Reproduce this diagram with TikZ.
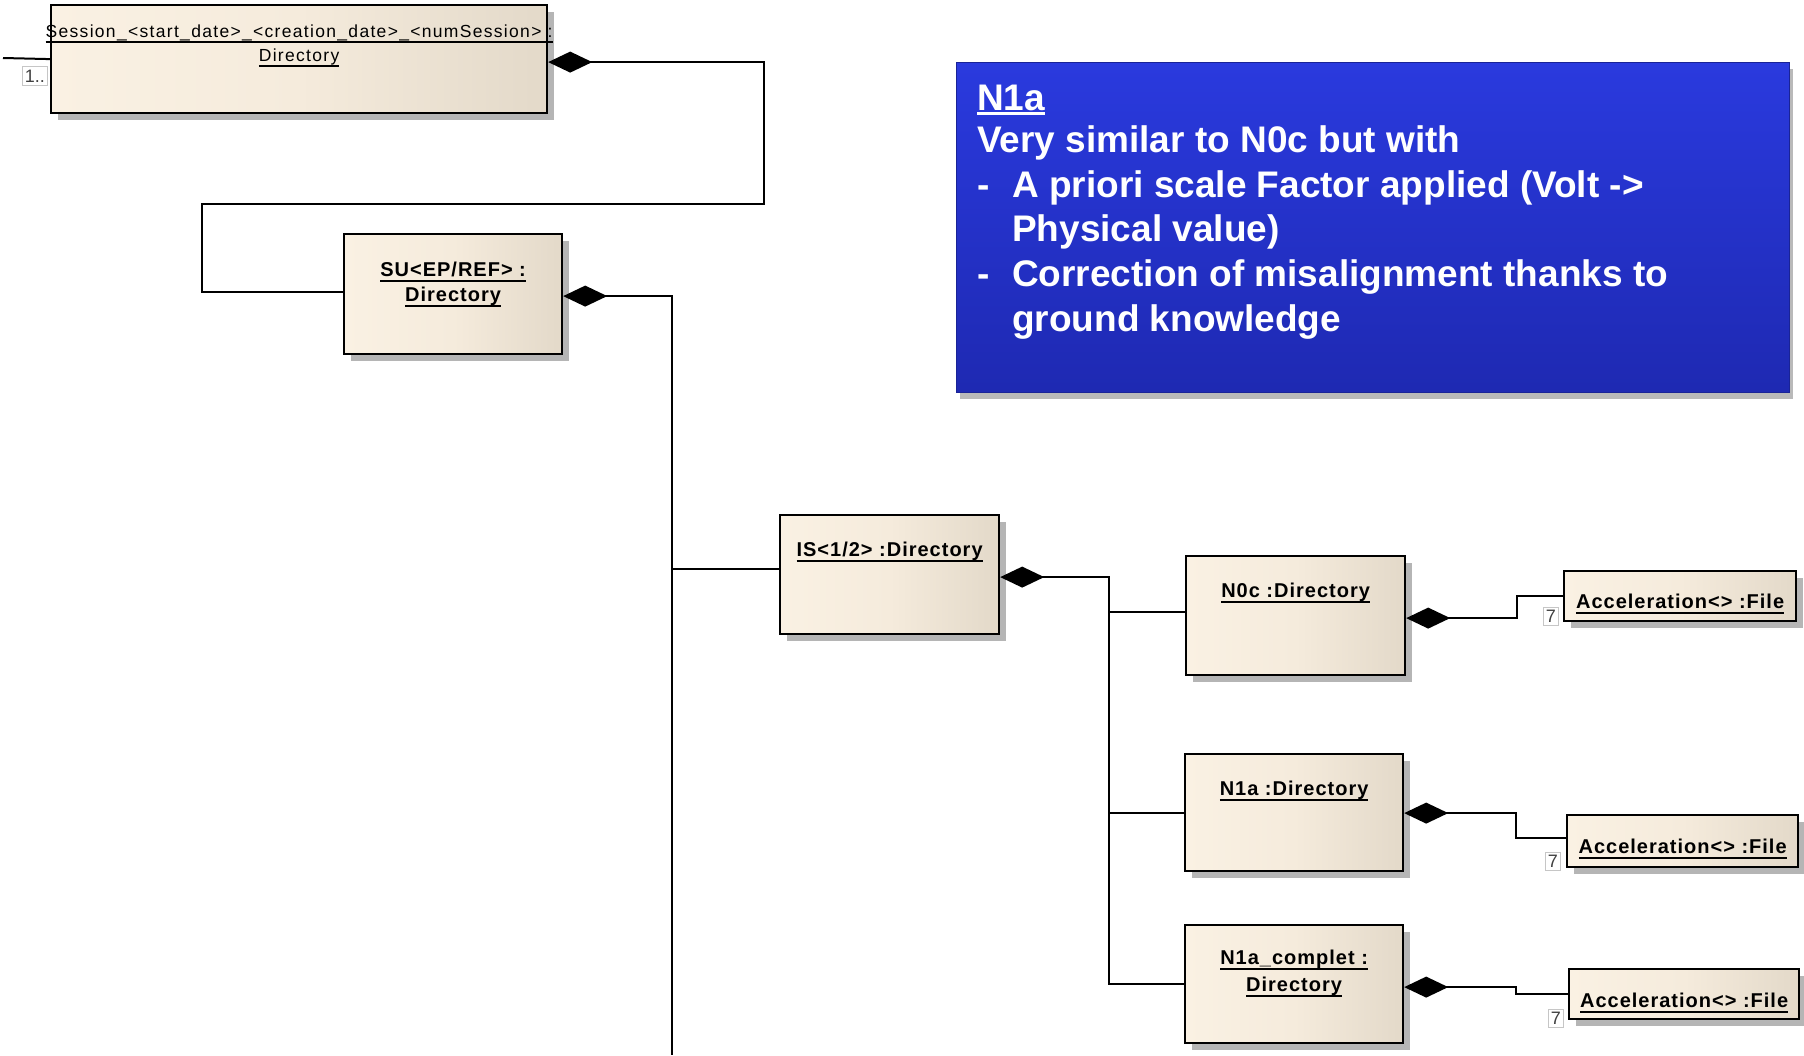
\documentclass[tikz,border=0pt]{standalone}
\usepackage{fontspec}
\setmainfont{Liberation Sans}
\newfontfamily\umlfont[LetterSpace=5]{Liberation Sans}
\newfontfamily\sessfont[LetterSpace=7.5]{Liberation Sans}
\usetikzlibrary{arrows.meta,shadows}
\definecolor{cremeL}{HTML}{FAF1E3}
\definecolor{cremeM}{HTML}{F5EBDC}
\definecolor{cremeR}{HTML}{E3D9C9}
\definecolor{shadowgray}{HTML}{B5B5B5}
\definecolor{blueT}{RGB}{42,58,222}
\definecolor{blueB}{RGB}{30,41,178}
\newcommand\ulx[1]{\setbox0=\hbox{#1}\rlap{\rule[-5.5pt]{\wd0}{1.8pt}}\box0}
\newcommand\ult[1]{\setbox0=\hbox{#1}\rlap{\rule[-4.5pt]{\wd0}{2.4pt}}\box0}
\begin{document}
\begin{tikzpicture}[x=1pt,y=-1pt,
  uml/.style={draw=black, line width=2.2pt, left color=cremeL, right color=cremeR, middle color=cremeM,
    general shadow={fill=shadowgray, draw=none, shadow xshift=7pt, shadow yshift=-7pt},
    inner sep=0pt, anchor=north west},
  umltxt/.style={font=\umlfont\bfseries\fontsize{20}{24}\selectfont, inner sep=0pt, anchor=base},
  sesstxt/.style={font=\sessfont\fontsize{17.5}{20}\selectfont, inner sep=0pt, anchor=base},
  conn/.style={line width=2pt},
  diam/.style={conn, {Diamond[length=44pt,width=21pt]}-},
  mult/.style={draw=gray!45, fill=white, line width=0.8pt, inner sep=0pt, anchor=north west,
    text=black!75, font=\fontsize{18}{18}\selectfont},
  note/.style={top color=blueT, bottom color=blueB, draw=blueB!85!black, line width=1pt,
    general shadow={fill=gray!55, draw=none, shadow xshift=3pt, shadow yshift=-6pt},
    inner sep=0pt, anchor=north west},
  notetxt/.style={text=white, font=\bfseries\fontsize{37}{44}\selectfont, inner sep=0pt, anchor=base west}]
\useasboundingbox (0,0) rectangle (1804,1055);

% ---- note ----
\node[note, minimum width=833pt, minimum height=330pt] (note) at (956,62) {};
\node[notetxt] (nt0) at (977,110) {\ult{N1a}};
\node[notetxt] (nt1) at (977,152) {Very similar to N0c but with};
\node[notetxt] (nd1) at (977,197) {-};
\node[notetxt] (nt2) at (1012,197) {A priori scale Factor applied (Volt ->};
\node[notetxt] (nt3) at (1012,241) {Physical value)};
\node[notetxt] (nd2) at (977,286) {-};
\node[notetxt] (nt4) at (1012,286) {Correction of misalignment thanks to};
\node[notetxt] (nt5) at (1012,331) {ground knowledge};

% ---- boxes ----
\node[uml, minimum width=496pt, minimum height=108pt] (sess) at (50,4) {};
\node[sesstxt] (sessT1) at ([yshift=-33.7pt]sess.north) {\ulx{Session\_<start\_date>\_<creation\_date>\_<numSession> :}};
\node[sesstxt] (sessT2) at ([yshift=-57pt]sess.north) {\ulx{Directory}};
\node[mult, minimum width=25pt, minimum height=19pt] (m0) at (22,66) {1..};

\node[uml, minimum width=218pt, minimum height=120pt] (su) at (343,233) {};
\node[umltxt] (suT1) at ([yshift=-43pt]su.north) {\ulx{SU<EP/REF> :}};
\node[umltxt] (suT2) at ([yshift=-68.7pt]su.north) {\ulx{Directory}};

\node[uml, minimum width=219pt, minimum height=119pt] (is) at (779,514) {};
\node[umltxt] (isT) at ([yshift=-42.7pt]is.north) {\ulx{IS<1/2> :Directory}};

\node[uml, minimum width=219pt, minimum height=119pt] (n0c) at (1185,555) {};
\node[umltxt] (n0cT) at ([yshift=-42pt]n0c.north) {\ulx{N0c :Directory}};

\node[uml, minimum width=218pt, minimum height=117pt] (n1a) at (1184,753) {};
\node[umltxt] (n1aT) at ([yshift=-42pt]n1a.north) {\ulx{N1a :Directory}};

\node[uml, minimum width=218pt, minimum height=118pt] (n1ac) at (1184,924) {};
\node[umltxt] (n1acT1) at ([yshift=-40pt]n1ac.north) {\ulx{N1a\_complet :}};
\node[umltxt] (n1acT2) at ([yshift=-67pt]n1ac.north) {\ulx{Directory}};

\node[uml, minimum width=232pt, minimum height=50pt] (f1) at (1563,570) {};
\node[umltxt] (f1T) at ([yshift=-38.3pt]f1.north) {\ulx{Acceleration<> :File}};
\node[mult, minimum width=15pt, minimum height=18pt] (m1) at (1543,607) {7};

\node[uml, minimum width=231pt, minimum height=52pt] (f2) at (1566,814) {};
\node[umltxt] (f2T) at ([yshift=-39pt]f2.north) {\ulx{Acceleration<> :File}};
\node[mult, minimum width=15pt, minimum height=18pt] (m2) at (1545,852) {7};

\node[uml, minimum width=230pt, minimum height=50pt] (f3) at (1568,968) {};
\node[umltxt] (f3T) at ([yshift=-39pt]f3.north) {\ulx{Acceleration<> :File}};
\node[mult, minimum width=15pt, minimum height=18pt] (m3) at (1548,1009) {7};

% ---- connectors ----
\coordinate (sessIn) at (3,58);
\draw[conn] (sessIn) -- (sess.west);
\coordinate (c1) at (764,204);
\coordinate (c2) at (202,204);
\draw[diam] ([yshift=-3pt]sess.east) -| (c1) -- (c2) |- ([yshift=2pt]su.west);
\coordinate (trunk) at (672,1055);
\draw[diam] ([yshift=-2pt]su.east) -| (trunk);
\draw[conn] ([yshift=5.5pt]is.west) -- ++(-107,0);
\path (n1ac.west) ++(-75,0) coordinate (bus);
\draw[diam] ([yshift=-2.5pt]is.east) -| (bus) -- (n1ac.west);
\draw[conn] ([yshift=3.5pt]n0c.west) -- ++(-76,0);
\draw[conn] (n1a.west) -- ++(-75,0);
\draw[diam] ([yshift=-2.5pt]n0c.east) -- ++(111,0) |- (f1.west);
\draw[diam] ([yshift=-0.5pt]n1a.east) -- ++(112,0) |- ([yshift=3pt]f2.west);
\draw[diam] ([yshift=-3pt]n1ac.east) -- ++(112,0) |- (f3.west);
\end{tikzpicture}
\end{document}
